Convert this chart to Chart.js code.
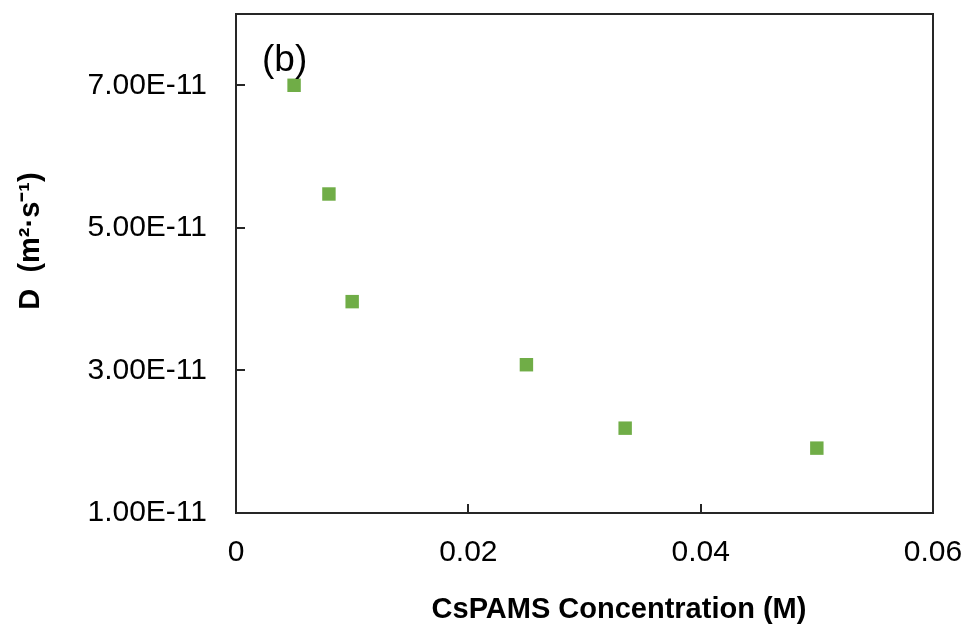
<!DOCTYPE html>
<html>
<head>
    <title>CsPAMS diffusion coefficient</title>
    <script src="https://cdn.jsdelivr.net/npm/chart.js"></script>
    <style>
        html, body { margin: 0; padding: 0; background: #fff; }
        #wrap { width: 966px; height: 628px; }
    </style>
</head>
<body>
    <div id="wrap"><canvas id="dChart" width="966" height="628"></canvas></div>

    <script>
        // concentration (M) vs diffusion coefficient D (m2/s)
        const concentration = [0.005, 0.008, 0.010, 0.025, 0.0335, 0.050];
        const diffusion = [7.00e-11, 5.475e-11, 3.965e-11, 3.08e-11, 2.19e-11, 1.91e-11];
        const yTicks = [1e-11, 3e-11, 5e-11, 7e-11];
        const xTicks = [0, 0.02, 0.04, 0.06];

        const FONT = "'Liberation Sans', Arial, sans-serif";
        const INK = '#262626';

        // frame, axis titles and the panel letter
        const decor = {
            id: 'decor',
            afterDraw(chart) {
                const a = chart.chartArea;
                const c = chart.ctx;
                c.save();
                c.strokeStyle = INK;
                c.lineWidth = 2;
                c.strokeRect(a.left, a.top, a.right - a.left, a.bottom - a.top);

                c.fillStyle = '#000';
                c.font = 'bold 29px ' + FONT;
                c.textAlign = 'center';
                c.textBaseline = 'middle';
                c.fillText('CsPAMS Concentration (M)', a.left + 383, a.bottom + 97);

                c.translate(31, a.top + 227);
                c.rotate(-Math.PI / 2);
                c.fillText('D  (m\u00B2\u00B7s\u207B\u00B9)', 0, 0);
                c.restore();

                c.save();
                c.fillStyle = '#000';
                c.font = '37px ' + FONT;
                c.textAlign = 'left';
                c.textBaseline = 'middle';
                c.fillText('(b)', a.left + 26, a.top + 47);
                c.restore();
            }
        };

        // keep the tick label padding from pushing the plot area inwards
        function noScalePadding(s) {
            s.paddingTop = 0;
            s.paddingBottom = 0;
            s.paddingLeft = 0;
            s.paddingRight = 0;
        }

        const ctx = document.getElementById('dChart').getContext('2d');
        const chart = new Chart(ctx, {
            type: 'scatter',
            data: {
                datasets: [{
                    label: 'D',
                    data: concentration.map((x, i) => ({ x: x, y: diffusion[i] })),
                    pointStyle: 'rect',
                    pointRadius: 9.5,
                    pointHoverRadius: 9.5,
                    backgroundColor: '#70AD47',
                    borderWidth: 0
                }]
            },
            options: {
                responsive: false,
                animation: false,
                layout: { padding: { top: 14, right: 33, left: 0, bottom: 0 } },
                plugins: {
                    legend: { display: false },
                    tooltip: { enabled: false }
                },
                scales: {
                    x: {
                        type: 'linear',
                        min: 0,
                        max: 0.06,
                        afterBuildTicks: s => { s.ticks = xTicks.map(v => ({ value: v })); },
                        afterFit: s => { s.height = 115; noScalePadding(s); },
                        border: { display: true, color: INK, width: 2 },
                        grid: { drawOnChartArea: false, drawTicks: true, tickLength: -9, color: INK, lineWidth: 2 },
                        ticks: {
                            color: '#000',
                            font: { family: FONT, size: 30 },
                            padding: 31,
                            maxRotation: 0,
                            callback: v => v === 0 ? '0' : String(+v.toFixed(2))
                        }
                    },
                    y: {
                        type: 'linear',
                        min: 1e-11,
                        max: 8e-11,
                        afterBuildTicks: s => { s.ticks = yTicks.map(v => ({ value: v })); },
                        afterFit: s => { s.width = 236; noScalePadding(s); },
                        border: { display: true, color: INK, width: 2 },
                        grid: { drawOnChartArea: false, drawTicks: true, tickLength: -9, color: INK, lineWidth: 2 },
                        ticks: {
                            color: '#000',
                            font: { family: FONT, size: 30 },
                            padding: 38,
                            callback: v => v.toExponential(2).toUpperCase()
                        }
                    }
                }
            },
            plugins: [decor]
        });
    </script>
</body>
</html>
